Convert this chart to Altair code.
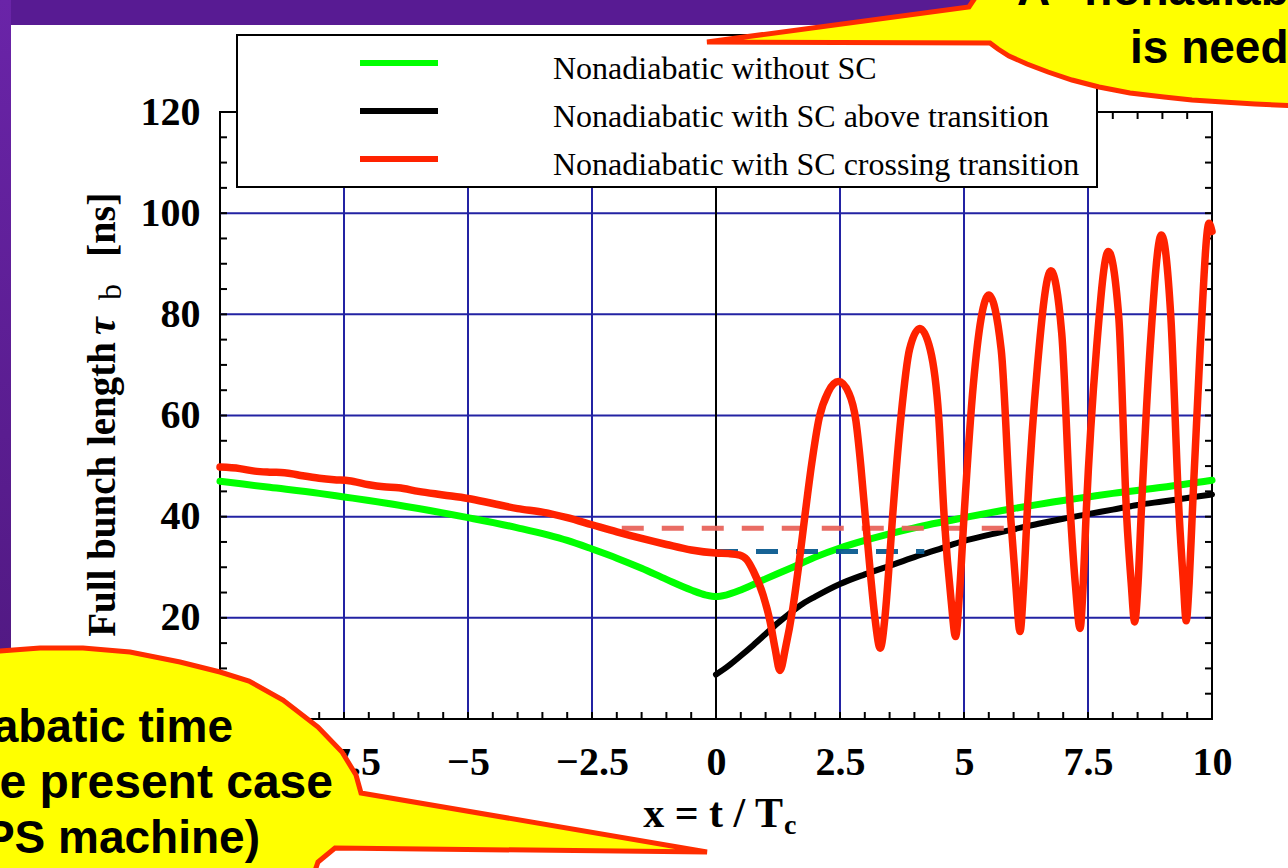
import altair as alt
import pandas as pd

# Page layout: the plot area starts at (220, 112) on a 1288 x 868 page
PLOT_W, PLOT_H = 992, 607
LEFT, TOP = 220, 112


def px(x):
    return x - LEFT


def py(y):
    return y - TOP


# ---- curves -------------------------------------------------------------
green_x = [-10, -9, -8, -7.5, -7, -6, -5, -4, -3, -2.5, -2, -1.5, -1, -0.5, -0.2, 0,
           0.2, 0.5, 1, 1.5, 2, 2.5, 3, 4, 5, 6, 7, 7.5, 8, 9, 10]
green_y = [47.0, 45.8, 44.6, 43.9, 43.2, 41.6, 39.8, 37.8, 35.3, 33.6, 31.8, 29.8, 27.6, 25.5, 24.5, 24.2,
           24.5, 25.5, 27.7, 29.8, 32.0, 33.8, 35.3, 37.8, 39.8, 41.6, 43.2, 43.9, 44.6, 45.8, 47.2]

black_x = [0, 0.25, 0.5, 0.75, 1.0, 1.25, 1.5, 1.75, 2.0, 2.5, 3.0, 3.5, 4.0, 4.5, 5.0,
           5.5, 6.0, 6.5, 7.0, 7.5, 8.0, 8.5, 9.0, 9.5, 10]
black_y = [8.8, 10.5, 12.5, 14.6, 16.8, 19.0, 21.0, 22.8, 24.2, 26.7, 28.6, 30.3, 32.0, 33.6, 35.2,
           36.4, 37.5, 38.6, 39.6, 40.5, 41.4, 42.3, 43.0, 43.7, 44.4]

red_x = [-10, -9.6, -9.3, -9.0, -8.7, -8.4, -8.0, -7.7, -7.4, -7.0, -6.7, -6.4, -6.0, -5.5, -5.0,
         -4.5, -4.0, -3.5, -3.0, -2.5, -2.0, -1.5, -1.0, -0.5, 0.0, 0.25, 0.48,
         0.62, 0.75, 0.95, 1.09, 1.19, 1.29,
         1.40, 1.55, 1.67, 1.79, 1.93, 2.08, 2.26, 2.47,
         2.68, 2.82, 2.92, 3.01, 3.12, 3.21, 3.31,
         3.41, 3.48, 3.56, 3.73, 3.90, 4.11,
         4.32, 4.49, 4.60, 4.74, 4.83,
         4.91, 5.00, 5.19, 5.50,
         5.75, 5.94, 6.04, 6.13,
         6.20, 6.27, 6.48, 6.75,
         6.97, 7.15, 7.25, 7.34,
         7.40, 7.46, 7.67, 7.91,
         8.12, 8.28, 8.37, 8.44,
         8.51, 8.57, 8.75, 8.98,
         9.17, 9.34, 9.42, 9.48,
         9.54, 9.60, 9.76, 9.94, 10.0]
red_y = [49.8, 49.5, 49.0, 48.8, 48.7, 48.2, 47.6, 47.3, 47.1, 46.3, 45.9, 45.7, 45.0, 44.3, 43.6,
         42.6, 41.6, 40.9, 39.8, 38.4, 37.0, 35.7, 34.5, 33.4, 32.8, 32.7, 32.4,
         31.5, 29.3, 24.5, 19.3, 14.0, 9.6,
         14.0, 22.0, 30.5, 40.0, 50.5, 59.5, 64.6, 66.7,
         64.4, 59.0, 50.0, 40.0, 28.0, 19.5, 14.0,
         20.5, 29.0, 40.0, 59.8, 73.0, 77.2,
         73.0, 59.8, 40.0, 23.5, 16.3,
         25.0, 40.0, 66.3, 83.8,
         73.0, 40.0, 27.0, 17.3,
         26.0, 40.0, 69.7, 88.6,
         76.3, 40.0, 26.0, 17.9,
         26.0, 40.0, 73.0, 92.4,
         79.5, 40.0, 27.0, 19.2,
         27.0, 40.0, 73.0, 95.7,
         79.5, 40.0, 27.5, 19.4,
         27.0, 40.0, 73.0, 98.0, 96.4]

# reference levels (dashed)
ref_start = [-1.9, 0.0]
ref_end = [6.0, 4.2]
ref_level = [37.7, 33.1]
ref_color = ["#e8645c", "#0b5b8f"]

# ---- axes ---------------------------------------------------------------
x_labels = [-10, -7.5, -5, -2.5, 0, 2.5, 5, 7.5, 10]
y_labels = [0, 20, 40, 60, 80, 100, 120]
grid_x = [-7.5, -5, -2.5, 2.5, 5, 7.5]
grid_y = [20, 40, 60, 80, 100]
minor_x = [i / 2 for i in range(-20, 21)]
minor_y = list(range(0, 121, 5))

legend_labels = ["Nonadiabatic without SC",
                 "Nonadiabatic with SC above transition",
                 "Nonadiabatic with SC crossing transition"]
legend_colors = ["#00ff00", "#000000", "#ff2200"]

GRID = "#2323a3"
SERIF = "Liberation Serif"
SANS = "Liberation Sans"

xs = alt.Scale(domain=[-10, 10], nice=False, zero=False)
ys = alt.Scale(domain=[0, 120], nice=False, zero=False)
x_axis = alt.Axis(values=x_labels, format=".1~f", title=None, grid=False, ticks=False, tickSize=0,
                  domain=False, labelPadding=23, labelOverlap=False, labelFlush=False)
y_axis = alt.Axis(values=y_labels, format="d", title=None, grid=False, ticks=False, tickSize=0,
                  domain=False, labelPadding=20, labelOverlap=False, labelFlush=False)


def X(field="x"):
    return alt.X(f"{field}:Q", scale=xs, axis=x_axis)


def Y(field="y"):
    return alt.Y(f"{field}:Q", scale=ys, axis=y_axis)


one = pd.DataFrame({"k": [0]})
layers = []

# slide decoration: purple bands at the top and the left edge
layers.append(alt.Chart(one).mark_rect(color="#581b93").encode(
    x=alt.value(px(0)), x2=alt.value(px(1288)), y=alt.value(py(0)), y2=alt.value(py(25))))
layers.append(alt.Chart(one).mark_rect(color=alt.LinearGradient(
    gradient="linear", x1=0, y1=0, x2=0, y2=1,
    stops=[alt.GradientStop(color="#6a24a8", offset=0), alt.GradientStop(color="#4a1678", offset=1)])).encode(
    x=alt.value(px(0)), x2=alt.value(px(11)), y=alt.value(py(0)), y2=alt.value(py(868))))

# grid
layers.append(alt.Chart(pd.DataFrame({"x": grid_x})).mark_rule(color=GRID, strokeWidth=2).encode(x=X()))
layers.append(alt.Chart(pd.DataFrame({"y": grid_y})).mark_rule(color=GRID, strokeWidth=2).encode(y=Y()))
layers.append(alt.Chart(pd.DataFrame({"x": [0]})).mark_rule(color="black", strokeWidth=2).encode(x=X()))

# inward ticks on all four sides
tx = pd.DataFrame({"x": minor_x})
ty = pd.DataFrame({"y": minor_y})
layers.append(alt.Chart(tx).mark_rule(color="black", strokeWidth=2).encode(
    x=X(), y=alt.value(PLOT_H), y2=alt.value(PLOT_H - 7)))
layers.append(alt.Chart(tx).mark_rule(color="black", strokeWidth=2).encode(
    x=X(), y=alt.value(0), y2=alt.value(7)))
layers.append(alt.Chart(ty).mark_rule(color="black", strokeWidth=2).encode(
    y=Y(), x=alt.value(0), x2=alt.value(7)))
layers.append(alt.Chart(ty).mark_rule(color="black", strokeWidth=2).encode(
    y=Y(), x=alt.value(PLOT_W), x2=alt.value(PLOT_W - 7)))

# curves
layers.append(alt.Chart(pd.DataFrame({"x": green_x, "y": green_y})).mark_line(
    color="#00ff00", strokeWidth=7, interpolate="monotone", strokeCap="round").encode(x=X(), y=Y()))
layers.append(alt.Chart(pd.DataFrame({"x": black_x, "y": black_y})).mark_line(
    color="black", strokeWidth=6, interpolate="monotone", strokeCap="round").encode(x=X(), y=Y()))
for s, e, lv, c in zip(ref_start, ref_end, ref_level, ref_color):
    layers.append(alt.Chart(pd.DataFrame({"x": [s], "x2": [e], "y": [lv]})).mark_rule(
        color=c, strokeWidth=5, strokeDash=[22, 18], opacity=0.95).encode(
        x=X(), x2="x2:Q", y=Y()))
layers.append(alt.Chart(pd.DataFrame({"x": red_x, "y": red_y})).mark_line(
    color="#ff2200", strokeWidth=7.5, interpolate="monotone", strokeCap="round").encode(x=X(), y=Y()))

# legend box
layers.append(alt.Chart(one).mark_rect(fill="white", stroke="black", strokeWidth=2).encode(
    x=alt.value(px(237)), x2=alt.value(px(1097)), y=alt.value(py(35)), y2=alt.value(py(187))))
for i, (lab, col) in enumerate(zip(legend_labels, legend_colors)):
    ly = 63 + 48 * i
    layers.append(alt.Chart(one).mark_rule(color=col, strokeWidth=6).encode(
        x=alt.value(px(360)), x2=alt.value(px(438)), y=alt.value(py(ly)), y2=alt.value(py(ly))))
    layers.append(alt.Chart(one).mark_text(
        text=lab, font=SERIF, fontSize=32, align="left", baseline="alphabetic", color="black").encode(
        x=alt.value(px(553)), y=alt.value(py(ly + 16))))


# axis titles
def label(text, x, y, size, align="left", angle=0, weight="bold", style="normal", font=SERIF):
    return alt.Chart(one).mark_text(
        text=text, font=font, fontSize=size, fontWeight=weight, fontStyle=style, align=align,
        baseline="alphabetic", angle=angle, color="black").encode(x=alt.value(px(x)), y=alt.value(py(y)))


layers.append(label("Full bunch length", 115, 342, 39, align="right", angle=270))
layers.append(label("τ", 115, 335, 40, align="left", angle=270, style="italic"))
layers.append(label("b", 121, 300, 32, align="left", angle=270, weight="normal"))
layers.append(label("[ns]", 115, 257, 40, align="left", angle=270))
layers.append(label("x = t / T", 783, 827, 42, align="right"))
layers.append(label("c", 784, 834, 28, align="left"))


# speech-bubble callouts
def poly(points):
    ring = [[px(a), py(b)] for a, b in points]
    ring.append(ring[0])
    return {"type": "Feature", "properties": {}, "geometry": {"type": "Polygon", "coordinates": [ring]}}


bubble_top = [(707, 42), (969, 7), (975, -2), (982, -30), (1320, -30), (1320, 107), (1288, 105.5),
              (1255, 104), (1223, 102), (1192, 100), (1164, 97), (1130, 93), (1099, 87),
              (1072, 80), (1048, 72), (1027, 64), (1009, 56), (998, 49), (990, 43)]
bubble_bottom = [(-30, 653), (0, 651), (40, 648), (83, 648), (130, 652), (180, 662), (220, 672),
                 (249, 681), (283, 700), (318, 727), (342, 752), (356, 775), (361, 793),
                 (707, 852), (335, 848), (318, 862), (305, 900), (-30, 900)]

layers.append(alt.Chart(alt.Data(values=[poly(bubble_top), poly(bubble_bottom)])).mark_geoshape(
    fill="#ffff00", stroke="#ff2d00", strokeWidth=5, strokeJoin="miter", strokeMiterLimit=2,
    clip=False).project(type="identity", scale=1, translate=[0, 0]))

layers.append(label("A “nonadiabatic” treatment", 1017, 5, 46, font=SANS))
layers.append(label("is needed", 1130, 63, 46, font=SANS))
layers.append(label("Nonadiabatic time", 233, 742, 46, align="right", font=SANS))
layers.append(label("in the present case", 333, 798, 48, align="right", font=SANS))
layers.append(label("(PS machine)", 260, 853, 46, align="right", font=SANS))

chart = alt.layer(*layers).properties(
    width=PLOT_W, height=PLOT_H,
    padding={"left": LEFT, "top": TOP, "right": 1288 - LEFT - PLOT_W, "bottom": 868 - TOP - PLOT_H},
    autosize=alt.AutoSizeParams(type="none"),
    background="white",
).configure_view(stroke="black", strokeWidth=2).configure_axis(
    labelFont=SERIF, labelFontSize=40, labelFontWeight="bold", labelColor="black")

chart.save("out.html", embed_options={"renderer": "svg", "actions": False})
